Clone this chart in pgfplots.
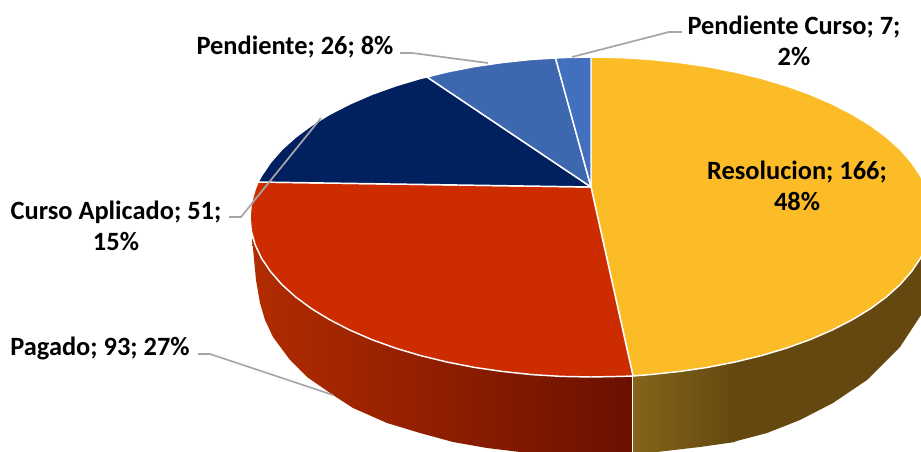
\documentclass[border=0pt]{standalone}
\usepackage{fontspec}
\setmainfont{Carlito}
\usepackage{pgfplots}
\pgfplotsset{compat=1.18}
\definecolor{cyellow}{HTML}{FBBC28}
\definecolor{cred}{HTML}{CD2B00}
\definecolor{cnavy}{HTML}{002060}
\definecolor{cblue}{HTML}{3D68B0}
\definecolor{clight}{HTML}{4270BE}
\definecolor{cleader}{HTML}{A6A6A6}
\definecolor{redA}{HTML}{B22C00}
\definecolor{redB}{HTML}{921F00}
\definecolor{redC}{HTML}{6A1000}
\definecolor{yelA}{HTML}{85651A}
\definecolor{yelB}{HTML}{64480F}
\tikzset{
  lab/.style={font=\fontsize{19.8}{23.25}\selectfont\bfseries, align=center, inner sep=0pt, text=black},
  top/.style={draw=white, line width=1.1pt, line join=round},
  leader/.style={draw=cleader, line width=1.3pt},
}
\begin{document}
\begin{tikzpicture}
\begin{axis}[
  scale only axis, width=690.75pt, height=339pt,
  xmin=0, xmax=921, ymin=0, ymax=452, y dir=reverse,
  hide axis, enlargelimits=false]

% side wall, red
\addplot[draw=none, left color=redA, middle color=redB, right color=redC] coordinates {
  (252,238) (256,280) (260,303) (265,320) (273,337) (290,360) (307,377) (333,395)
  (353,408) (387,423) (420,433) (453,442) (487,448) (520,452) (520,460) (633,460) (633,376) (620.7,376.4)
  (591,377) (561.3,376.4) (531.8,374.6) (502.7,371.5) (474.4,367.4) (446.9,362) (420.5,355.6)
  (395.4,348.1) (371.8,339.6) (349.9,330.1) (329.8,319.8) (311.7,308.8) (295.7,297)
  (281.9,284.6) (270.6,271.7) (261.6,258.4) (255.2,244.8)
} -- cycle;

% side wall, yellow
\addplot[draw=none, fill=yelB] coordinates {
  (733,362) (761.5,355.6) (786.6,348.1) (810.2,339.6) (832.1,330.1) (852.2,319.8) (870.3,308.8)
  (886.3,297) (900.1,284.6) (911.4,271.7) (920.4,258.4) (930,240) (930,300) (921,315) (900,347)
  (867,380) (833,403) (800,420) (767,433) (733,442)
} -- cycle;
\addplot[draw=none, left color=yelA, right color=yelB] coordinates {
  (633,376) (650.2,374.6) (679.3,371.5) (707.6,367.4) (735.1,362) (735.1,442) (700,447) (657,452)
  (657,460) (633,460)
} -- cycle;
\addplot[draw=white, line width=1.1pt] coordinates {(632.5,376) (632.5,460)};

% top face
\addplot[top, fill=cyellow] coordinates { % Resolucion 166
  (591,187) (591,57) (620.7,57.6) (650.2,59.4) (679.3,62.5) (707.6,66.6) (735.1,72) (761.5,78.4)
  (786.6,85.9) (810.2,94.4) (832.1,103.9) (852.2,114.2) (870.3,125.2) (886.3,137) (900.1,149.4)
  (911.4,162.3) (920.4,175.6) (926.8,189.2) (930.7,203) (932,217) (930.7,231) (926.8,244.8)
  (920.4,258.4) (911.4,271.7) (900.1,284.6) (886.3,297) (870.3,308.8) (852.2,319.8) (832.1,330.1)
  (810.2,339.6) (786.6,348.1) (761.5,355.6) (735.1,362) (707.6,367.4) (679.3,371.5) (650.2,374.6)
  (633,376)
} -- cycle;
\addplot[top, fill=cred] coordinates { % Pagado 93
  (591,187) (633,376) (620.7,376.4) (591,377) (561.3,376.4) (531.8,374.6) (502.7,371.5) (474.4,367.4)
  (446.9,362) (420.5,355.6) (395.4,348.1) (371.8,339.6) (349.9,330.1) (329.8,319.8) (311.7,308.8)
  (295.7,297) (281.9,284.6) (270.6,271.7) (261.6,258.4) (255.2,244.8) (251.3,231) (250,217)
  (251.3,203) (255.2,189.2) (258,182)
} -- cycle;
\addplot[top, fill=cnavy] coordinates { % Curso Aplicado 51
  (591,187) (258,182) (261.6,175.6) (270.6,162.3) (281.9,149.4) (295.7,137) (311.7,125.2)
  (329.8,114.2) (349.9,103.9) (371.8,94.4) (395.4,85.9) (420.5,78.4) (427,77)
} -- cycle;
\addplot[top, fill=cblue] coordinates { % Pendiente 26
  (591,187) (427,77) (446.9,72) (474.4,66.6) (502.7,62.5) (531.8,59.4) (555.5,58)
} -- cycle;
\addplot[top, fill=clight] coordinates { % Pendiente Curso 7
  (591,187) (555.5,58) (561.3,57.6) (591,57)
} -- cycle;

% leader lines
\addplot[leader] coordinates {(682,32) (669,32) (572,57)};
\addplot[leader] coordinates {(400,53) (412,53) (488,63)};
\addplot[leader] coordinates {(229,217) (241,217) (321,118)};
\addplot[leader] coordinates {(198,354) (210,354) (333,395)};

\node[lab] at (axis cs:797,185.5) {Resolucion; 166;\\48\%};
\node[lab] at (axis cs:794,40.5) {Pendiente Curso; 7;\\2\%};
\node[lab] at (axis cs:295,47) {Pendiente; 26; 8\%};
\node[lab] at (axis cs:116,226) {Curso Aplicado; 51;\\15\%};
\node[lab] at (axis cs:100,348) {Pagado; 93; 27\%};
\end{axis}
\pgfresetboundingbox
\path[use as bounding box] (current axis.south west) rectangle (current axis.north east);
\end{tikzpicture}
\end{document}
